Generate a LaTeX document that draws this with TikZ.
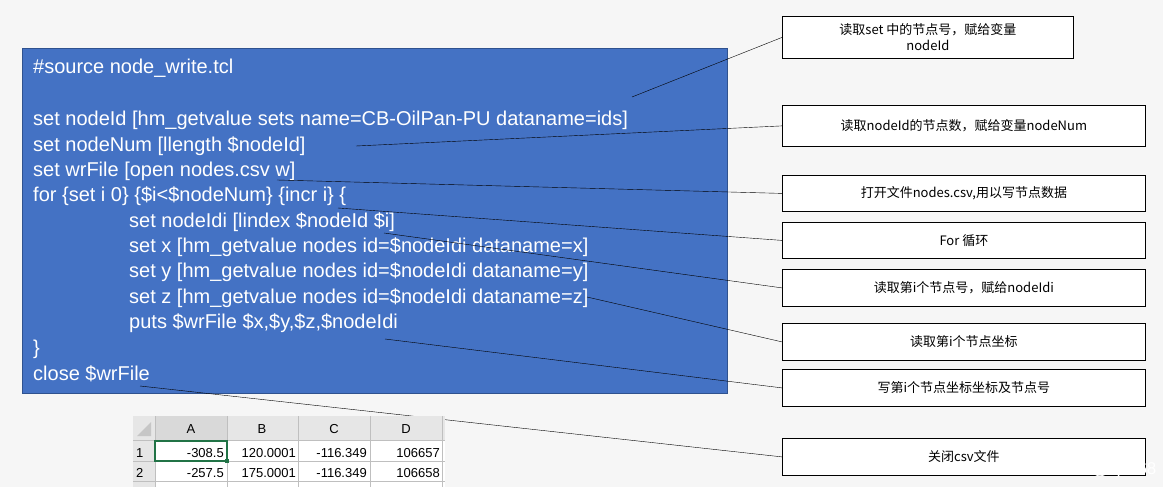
\documentclass[tikz,border=0pt]{standalone}
\usepackage{fontspec}
\setmainfont{Liberation Sans}
\newfontfamily\cjk{Noto Sans CJK SC}
\usetikzlibrary{positioning}
\definecolor{codeblue}{HTML}{4472C4}
\definecolor{codeedge}{HTML}{2F528F}
\definecolor{paper}{HTML}{F6F6F6}
\definecolor{hdr}{HTML}{E6E6E6}
\definecolor{cellgreen}{HTML}{217346}
\tikzset{
  code/.style={anchor=base west, inner sep=0pt, text=white, font=\fontsize{20}{24}\selectfont},
  note/.style={draw=black, fill=white, thick, anchor=north west, inner sep=0pt, font=\cjk\fontsize{13}{16}\selectfont, align=center},
  link/.style={black, thin},
  cell/.style={anchor=base east, inner sep=0pt, font=\fontsize{13}{15}\selectfont}
}
\begin{document}
\begin{tikzpicture}[x=1pt,y=-1pt]
\useasboundingbox (0,0) rectangle (1163,487);
\fill[paper] (0,0) rectangle (1163,487);

% code block
\draw[codeedge, fill=codeblue] (22,48) rectangle (727,393);
\node[code] (l1) at (33,74) {\#source node\_write.tcl};
\node[code] (l2) at (33,125) {set nodeId [hm\_getvalue sets name=CB-OilPan-PU dataname=ids]};
\node[code] (l3) at (33,151) {set nodeNum [llength \$nodeId]};
\node[code] (l4) at (33,176) {set wrFile [open nodes.csv w]};
\node[code] (l5) at (33,201) {for \{set i 0\} \{\$i<\$nodeNum\} \{incr i\} \{};
\node[code] (l6) at (129,227) {set nodeIdi [lindex \$nodeId \$i]};
\node[code] (l7) at (129,252) {set x [hm\_getvalue nodes id=\$nodeIdi dataname=x]};
\node[code] (l8) at (129,277) {set y [hm\_getvalue nodes id=\$nodeIdi dataname=y]};
\node[code] (l9) at (129,303) {set z [hm\_getvalue nodes id=\$nodeIdi dataname=z]};
\node[code] (l10) at (129,328) {puts \$wrFile \$x,\$y,\$z,\$nodeIdi};
\node[code] (l11) at (33,354) {\}};
\node[code] (l12) at (33,380) {close \$wrFile};

% notes
\node[note, minimum width=291, minimum height=42] (n1) at (782,16) {读取set 中的节点号，赋给变量\\nodeId};
\node[note, minimum width=363, minimum height=41] (n2) at (782,105) {读取nodeId的节点数，赋给变量nodeNum};
\node[note, minimum width=363, minimum height=36] (n3) at (782,175) {打开文件nodes.csv,用以写节点数据};
\node[note, minimum width=363, minimum height=36] (n4) at (782,222) {For 循环};
\node[note, minimum width=363, minimum height=37] (n5) at (782,269) {读取第i个节点号，赋给nodeIdi};
\node[note, minimum width=363, minimum height=37] (n6) at (782,323) {读取第i个节点坐标};
\node[note, minimum width=363, minimum height=37] (n7) at (782,369) {写第i个节点坐标坐标及节点号};
\node[note, minimum width=363, minimum height=37] (n8) at (782,438) {关闭csv文件};

% connectors
\coordinate (c1) at (632,97);
\coordinate (c2) at (356,146);
\coordinate (c3) at (277,180);
\coordinate (c4) at (338,208);
\coordinate (c5) at (384,233);
\coordinate (c6) at (587,297);
\coordinate (c7) at (385,339);
\coordinate (c8) at (140,386);
\draw[link] (c1) -- (n1.west);
\draw[link] (c2) -- (n2.west);
\draw[link] (c3) -- (n3.west);
\draw[link] (c4) -- (n4.west);
\draw[link] (c5) -- (n5.west);
\draw[link] (c6) -- (n6.west);
\draw[link] (c7) -- (n7.west);
\draw[link] (c8) -- (n8.west);

% spreadsheet
\fill[white] (133,416) rectangle (445,487);
\fill[hdr] (133,416) rectangle (445,440);
\fill[hdr] (133,440) rectangle (155,487);
\fill[gray!45] (137,436) -- (151,436) -- (151,422) -- cycle;
\fill[gray!30] (155,416) rectangle (227,440);
\draw[cellgreen, thick] (155,440) -- (227,440);
\draw[gray!50] (155,416) -- (155,487) (227,416) -- (227,487) (298,416) -- (298,487)
  (370,416) -- (370,487) (442,416) -- (442,487)
  (133,440) -- (445,440) (133,461) -- (445,461) (133,481) -- (445,481);
\draw[cellgreen, line width=1.2pt] (155,441) rectangle (227,461);
\fill[cellgreen] (225,459) rectangle (229,463);
\foreach \c/\x in {A/191,B/262,C/334,D/406}
  \node[font=\fontsize{13}{15}\selectfont, text=black] (h\c) at (\x,429) {\c};
\node[cell, anchor=base west] (r1) at (136,457) {1};
\node[cell, anchor=base west] (r2) at (136,477) {2};
\node[cell] (a1) at (224,457) {-308.5};
\node[cell] (b1) at (296,457) {120.0001};
\node[cell] (cc1) at (367,457) {-116.349};
\node[cell] (d1) at (440,457) {106657};
\node[cell] (a2) at (224,477) {-257.5};
\node[cell] (b2) at (296,477) {175.0001};
\node[cell] (cc2) at (367,477) {-116.349};
\node[cell] (d2) at (440,477) {106658};

% watermark
\node[anchor=base east, text=white, font=\fontsize{17}{19}\selectfont] (wm) at (1160,474) {CSDN @lijil168};
\end{tikzpicture}
\end{document}
